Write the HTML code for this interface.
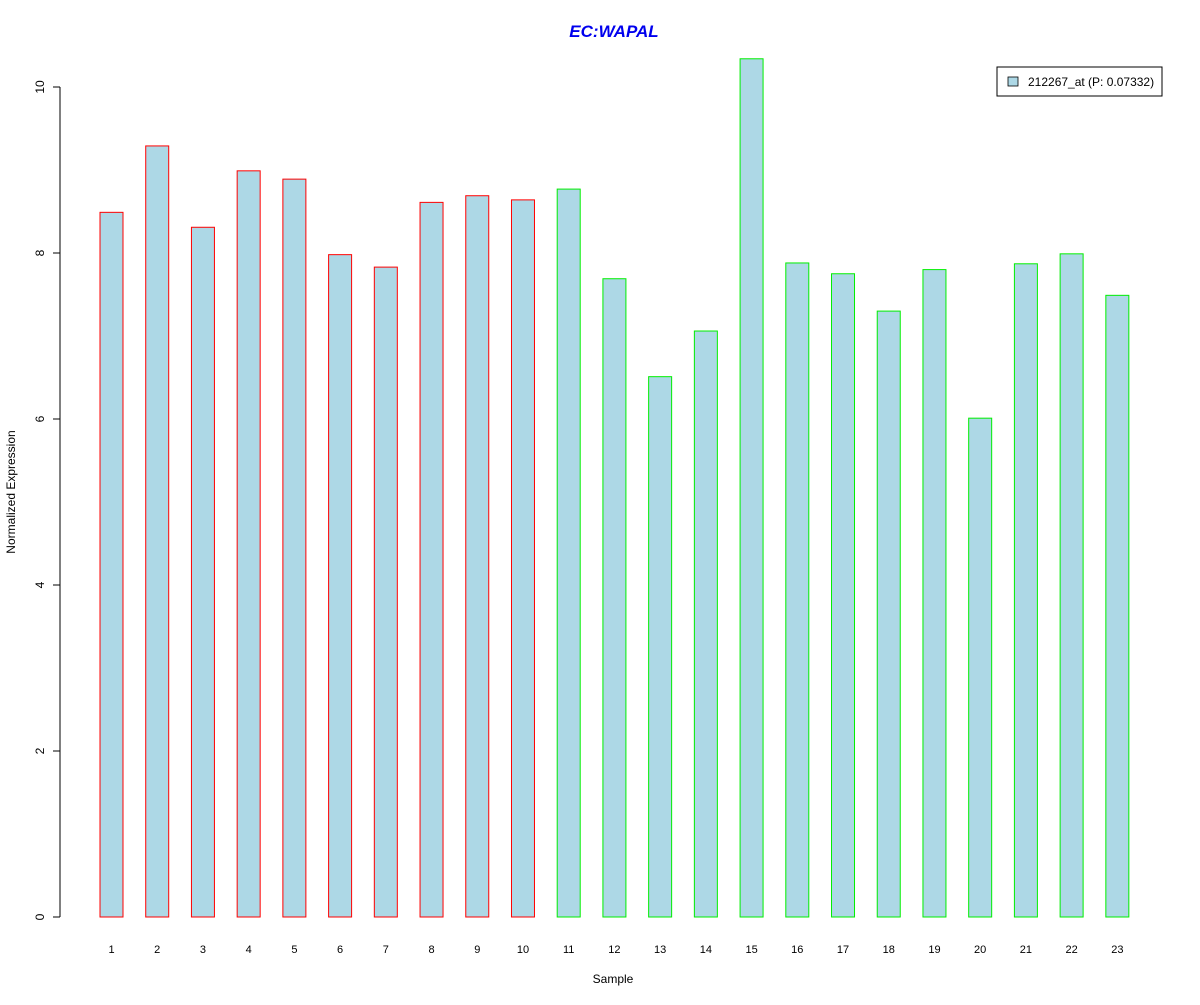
<!DOCTYPE html>
<html><head><meta charset="utf-8"><style>
body{margin:0;background:#fff;font-family:"Liberation Sans",Arial,sans-serif}
svg text{font-family:"Liberation Sans",Arial,sans-serif}
</style></head><body>
<svg id="chart" width="1200" height="1000" xmlns="http://www.w3.org/2000/svg">
<rect width="1200" height="1000" fill="#fff"/>
<text x="614" y="37" text-anchor="middle" font-size="17" font-weight="bold" font-style="italic" fill="#0000ee">EC:WAPAL</text>
<text x="613" y="983" text-anchor="middle" font-size="12">Sample</text>
<text transform="translate(15,492) rotate(-90)" text-anchor="middle" font-size="12">Normalized Expression</text>
<g id="yaxis"></g>
<g id="bars"></g>
<g id="xlabels"></g>
<g>
<rect x="997" y="67" width="165" height="29" fill="#fff" stroke="#000"/>
<rect x="1008" y="77" width="10" height="9" fill="#add8e6" stroke="#000" stroke-width="0.8"/>
<text x="1028" y="86" font-size="12">212267_at (P: 0.07332)</text>
</g>
</svg>
<script>
const categories=["1","2","3","4","5","6","7","8","9","10","11","12","13","14","15","16","17","18","19","20","21","22","23"];
const values=[8.49,9.29,8.31,8.99,8.89,7.98,7.83,8.61,8.69,8.64,8.77,7.69,6.51,7.06,10.34,7.88,7.75,7.30,7.80,6.01,7.87,7.99,7.49];
const groups=["r","r","r","r","r","r","r","r","r","r","g","g","g","g","g","g","g","g","g","g","g","g","g"];
const yTicks=[0,2,4,6,8,10];
const NS="http://www.w3.org/2000/svg";
function y(v){return 917-v*83;}
function xc(i){return 111.5+i*45.72;}
function mk(t,a,p){const e=document.createElementNS(NS,t);for(const k in a)e.setAttribute(k,a[k]);p.appendChild(e);return e;}
const ya=document.getElementById('yaxis');
const ax=mk('line',{x1:60,x2:60,y1:y(0),y2:y(10),stroke:'#000'},ya);


yTicks.forEach(t=>{
 const l=mk('line',{x1:53,x2:60,y1:y(t),y2:y(t),stroke:'#000'},ya);
 
 
 const tx=mk('text',{transform:`translate(44,${y(t)}) rotate(-90)`,'text-anchor':'middle','font-size':12},ya);
 
 
 tx.textContent=t;
});
const bg=document.getElementById('bars'),xl=document.getElementById('xlabels');
values.forEach((v,i)=>{
 const r=mk('rect',{x:xc(i)-11.5,y:y(v),width:23,height:y(0)-y(v),fill:'#add8e6',stroke:groups[i]=='r'?'#ff0000':'#00ee00'},bg);
 
 
 const t=mk('text',{x:xc(i),y:953,'text-anchor':'middle','font-size':11},xl);
 
 
 t.textContent=categories[i];
});
</script>
</body></html>
